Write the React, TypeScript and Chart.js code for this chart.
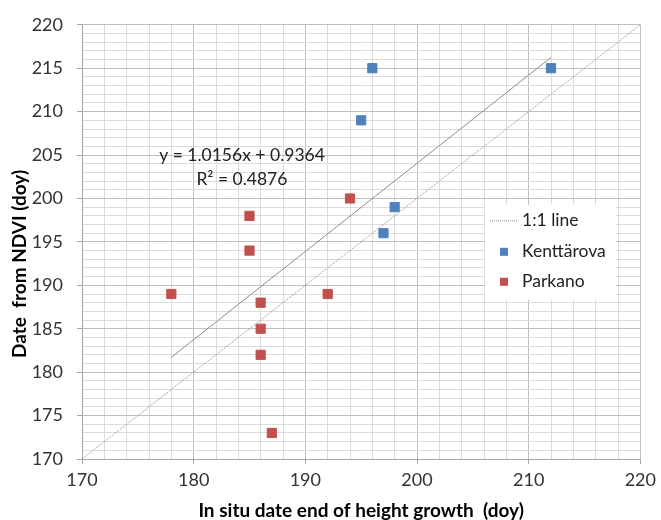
import React, { useEffect, useRef } from "react";
import { Chart, registerables } from "chart.js";

Chart.register(...registerables);

const kentX = [196, 195, 198, 197, 212];
const kentY = [215, 209, 199, 196, 215];
const parkX = [185, 185, 178, 186, 186, 186, 187, 192, 194];
const parkY = [198, 194, 189, 188, 185, 182, 173, 189, 200];
const oneToOneX = [170, 220];
const oneToOneY = [170, 220];
const trendX = [178, 212];
const trendY = [181.71, 216.24];
const equationText = "y = 1.0156x + 0.9364";
const r2Text = "R² = 0.4876";
const xTitle = "In situ date end of height growth  (doy)";
const yTitle = "Date  from NDVI (doy)";
const seriesLabels = ["1:1 line", "Kenttärova", "Parkano"];

const BLUE = "#4F81BD";
const RED = "#C0504D";
const FONT = "Lato, 'Open Sans', sans-serif";

const pts = (xs: number[], ys: number[]) => xs.map((x, i) => ({ x, y: ys[i] }));

export default function App() {
  const ref = useRef<HTMLCanvasElement | null>(null);
  useEffect(() => {
    if (!ref.current) return;
    const overlay = {
      id: "overlay",
      afterDraw(chart: any) {
        const { ctx, chartArea } = chart;
        const L = chartArea.left;
        const T = chartArea.top;
        const R = chartArea.right;
        const B = chartArea.bottom;
        ctx.save();
        // equation
        ctx.fillStyle = "#222";
        ctx.font = `17.5px ${FONT}`;
        ctx.textAlign = "center";
        ctx.textBaseline = "middle";
        ctx.fillText(equationText, L + 160, T + 131);
        ctx.fillText(r2Text, L + 160, T + 155);
        // legend
        const lx = L + 403;
        const ly = T + 180;
        ctx.fillStyle = "#ffffff";
        ctx.fillRect(lx, ly, 131, 95);
        ctx.font = `17.5px ${FONT}`;
        ctx.textAlign = "left";
        ctx.fillStyle = "#222";
        // 1:1 line sample
        ctx.strokeStyle = "#8c8c8c";
        ctx.lineWidth = 1;
        ctx.setLineDash([1, 1]);
        ctx.beginPath();
        ctx.moveTo(lx + 5, ly + 16);
        ctx.lineTo(lx + 32, ly + 16);
        ctx.stroke();
        ctx.setLineDash([]);
        ctx.fillText(seriesLabels[0], lx + 37, ly + 16);
        ctx.fillStyle = BLUE;
        ctx.fillRect(lx + 15, ly + 43, 8, 8);
        ctx.fillStyle = "#222";
        ctx.fillText(seriesLabels[1], lx + 37, ly + 47);
        ctx.fillStyle = RED;
        ctx.fillRect(lx + 15, ly + 73, 8, 8);
        ctx.fillStyle = "#222";
        ctx.fillText(seriesLabels[2], lx + 37, ly + 77);
        // axis titles
        ctx.fillStyle = "#000";
        ctx.font = `bold 19px ${FONT}`;
        ctx.textAlign = "center";
        ctx.fillText(xTitle, (L + R) / 2, B + 52);
        ctx.translate(20, (T + B) / 2 + 22);
        ctx.rotate(-Math.PI / 2);
        ctx.fillText(yTitle, 0, 0);
        ctx.restore();
      },
    };
    const chart = new Chart(ref.current, {
      type: "scatter",
      data: {
        datasets: [
          {
            label: seriesLabels[0],
            type: "line",
            data: pts(oneToOneX, oneToOneY),
            borderColor: "#8c8c8c",
            borderWidth: 1,
            borderDash: [1, 1],
            pointRadius: 0,
            fill: false,
          },
          {
            label: "trend",
            type: "line",
            data: pts(trendX, trendY),
            borderColor: "#8c8c8c",
            borderWidth: 1,
            pointRadius: 0,
            fill: false,
          },
          {
            label: seriesLabels[1],
            data: pts(kentX, kentY),
            backgroundColor: BLUE,
            borderColor: BLUE,
            pointStyle: "rect",
            pointRadius: 6.5,
            borderWidth: 1,
          },
          {
            label: seriesLabels[2],
            data: pts(parkX, parkY),
            backgroundColor: RED,
            borderColor: RED,
            pointStyle: "rect",
            pointRadius: 6.5,
            borderWidth: 1,
          },
        ],
      } as any,
      options: {
        animation: false,
        responsive: true,
        maintainAspectRatio: false,
        layout: { padding: { top: 22, right: 19, left: 0, bottom: 0 } },
        plugins: { legend: { display: false }, tooltip: { enabled: false } },
        scales: {
          x: {
            type: "linear",
            min: 170,
            max: 220,
            afterFit: (s: any) => {
              s.height = 61;
            },
            ticks: {
              stepSize: 2,
              autoSkip: false,
              maxRotation: 0,
              padding: 5,
              color: "#333",
              font: { family: FONT, size: 18 },
              callback: (v: any) => (Number(v) % 10 === 0 ? String(v) : ""),
            },
            grid: {
              color: (c: any) => (c.tick && c.tick.value % 10 === 0 ? "#c0c0c0" : "#dcdcdc"),
              tickColor: (c: any) => (c.tick && c.tick.value % 10 === 0 ? "#a6a6a6" : "rgba(0,0,0,0)"),
              tickLength: 5,
            },
            border: { color: "#a6a6a6" },
          },
          y: {
            type: "linear",
            min: 170,
            max: 220,
            afterFit: (s: any) => {
              s.width = 82;
            },
            ticks: {
              stepSize: 1,
              autoSkip: false,
              padding: 14,
              color: "#333",
              font: { family: FONT, size: 18 },
              callback: (v: any) => (Number(v) % 5 === 0 ? String(v) : ""),
            },
            grid: {
              color: (c: any) => (c.tick && c.tick.value % 5 === 0 ? "#c0c0c0" : "#dcdcdc"),
              tickColor: (c: any) => (c.tick && c.tick.value % 5 === 0 ? "#a6a6a6" : "rgba(0,0,0,0)"),
              tickLength: 5,
            },
            border: { color: "#a6a6a6" },
          },
        },
      } as any,
      plugins: [overlay],
    });
    return () => chart.destroy();
  }, []);
  return (
    <div style={{ position: "absolute", left: 0, top: 0, width: 661, height: 520, background: "#fff" }}>
      <canvas ref={ref} />
    </div>
  );
}
